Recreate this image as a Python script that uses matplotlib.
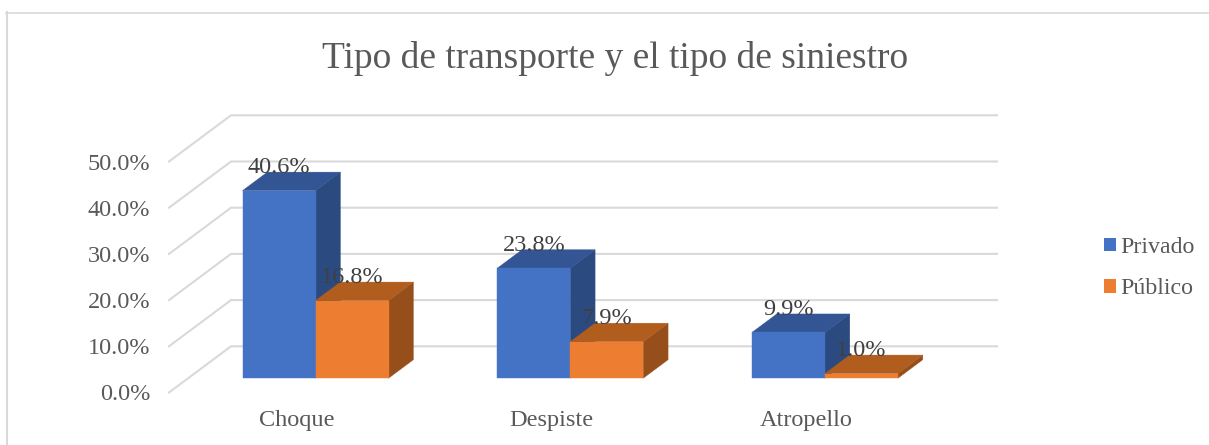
import numpy as np
import matplotlib
matplotlib.use("Agg")
import matplotlib.pyplot as plt
from matplotlib.patches import Patch
from matplotlib.lines import Line2D

categories = ["Choque", "Despiste", "Atropello"]
privado = [40.6, 23.8, 9.9]
publico = [16.8, 7.9, 1.0]
series_names = ["Privado", "Público"]
yticks = [0, 10, 20, 30, 40, 50]
title = "Tipo de transporte y el tipo de siniestro"

W, H = 1209, 445
plt.rcParams['font.family'] = ['Liberation Serif', 'DejaVu Serif']

GREY_TEXT = '#595959'
DARK_TEXT = '#404040'
GRID = '#d9d9d9'
BLUE = ('#4472c4', '#335593', '#2a4a80')  # front, top, side
ORANGE = ('#ed7d31', '#b15d1e', '#964f1a')

# the fake 3d: depth d goes 0 (front) to 1 (back wall)
DEPTH_X = 62 / 254.7
DEPTH_Y = 10.0
BAR_D0 = 0.31
BAR_D1 = 0.71
BAR_W = 0.2866


def proj(x, y, d):
  return x + d * DEPTH_X, y + d * DEPTH_Y


def draw_bar(ax, x0, x1, val, colors, z):
  front = [proj(x0, 0, BAR_D0), proj(x1, 0, BAR_D0), proj(x1, val, BAR_D0), proj(x0, val, BAR_D0)]
  top = [proj(x0, val, BAR_D0), proj(x1, val, BAR_D0), proj(x1, val, BAR_D1), proj(x0, val, BAR_D1)]
  side = [proj(x1, 0, BAR_D0), proj(x1, 0, BAR_D1), proj(x1, val, BAR_D1), proj(x1, val, BAR_D0)]
  for pts, c, dz in ((side, colors[2], 0), (top, colors[1], 0.1), (front, colors[0], 0.2)):
    ax.add_patch(plt.Polygon(pts, closed=True, facecolor=c, edgecolor=c, lw=0.3, zorder=z + dz))


fig = plt.figure(figsize=(W / 100, H / 100), dpi=100)
ax = fig.add_axes([169 / W, 1 - 392.5 / H, 828 / W, 277.2 / H])
ax.set_xlim(0, 828 / 254.7)
ax.set_ylim(0, 60)

# outer chart border, only top and left show in the crop
fig.add_artist(Line2D([7 / W, 7 / W], [0, 1 - 12 / H], color=GRID, lw=1.5))
fig.add_artist(Line2D([6 / W, 1], [1 - 13 / H, 1 - 13 / H], color=GRID, lw=1.2))

# gridlines, along the back wall and the left wall
wall_w = 766 / 254.7
for t in yticks:
  xs = [proj(0, t, 0)[0], proj(0, t, 1)[0], proj(wall_w, t, 1)[0]]
  ys = [proj(0, t, 0)[1], proj(0, t, 1)[1], proj(wall_w, t, 1)[1]]
  ax.plot(xs, ys, color=GRID, lw=1.5, solid_joinstyle='miter', zorder=1, clip_on=False)

xpos = np.arange(len(categories)) + 0.5
for i, x in enumerate(xpos):
  mid = x
  draw_bar(ax, mid - BAR_W, mid, privado[i], BLUE, 3 + i)
  draw_bar(ax, mid, mid + BAR_W, publico[i], ORANGE, 3.5 + i)

for i, x in enumerate(xpos):
  mid = x
  for val, cx in ((privado[i], mid - BAR_W / 2), (publico[i], mid + BAR_W / 2)):
    px, py = proj(cx, val, BAR_D0)
    ax.annotate("%.1f%%" % val, (px, py), xytext=(0, 16.5), textcoords='offset points',
                ha='center', va='center', fontsize=17.5, color=DARK_TEXT, zorder=10)

ax.set_xticks(xpos)
ax.set_xticklabels(categories, fontsize=17.5, color=GREY_TEXT)
ax.set_yticks(yticks)
ax.set_yticklabels(["%.1f%%" % t for t in yticks], fontsize=17.5, color=GREY_TEXT)
ax.tick_params(axis='x', length=0, pad=12.5)
ax.tick_params(axis='y', length=0, pad=13.5)
for s in ax.spines.values():
  s.set_visible(False)
ax.patch.set_alpha(0)

fig.text(615 / W, 1 - 58 / H, title, fontsize=27, color=GREY_TEXT, ha='center', va='center')

handles = [Patch(facecolor=BLUE[0], label=series_names[0]), Patch(facecolor=ORANGE[0], label=series_names[1])]
fig.legend(handles=handles, loc='upper left', bbox_to_anchor=(1104 / W, 1 - 237 / H),
           fontsize=17.2, frameon=False, borderpad=0, borderaxespad=0,
           handlelength=0.5, handleheight=0.5, handletextpad=0.2, labelspacing=0.85,
           labelcolor=GREY_TEXT)

fig.savefig("out.png", dpi=100)
